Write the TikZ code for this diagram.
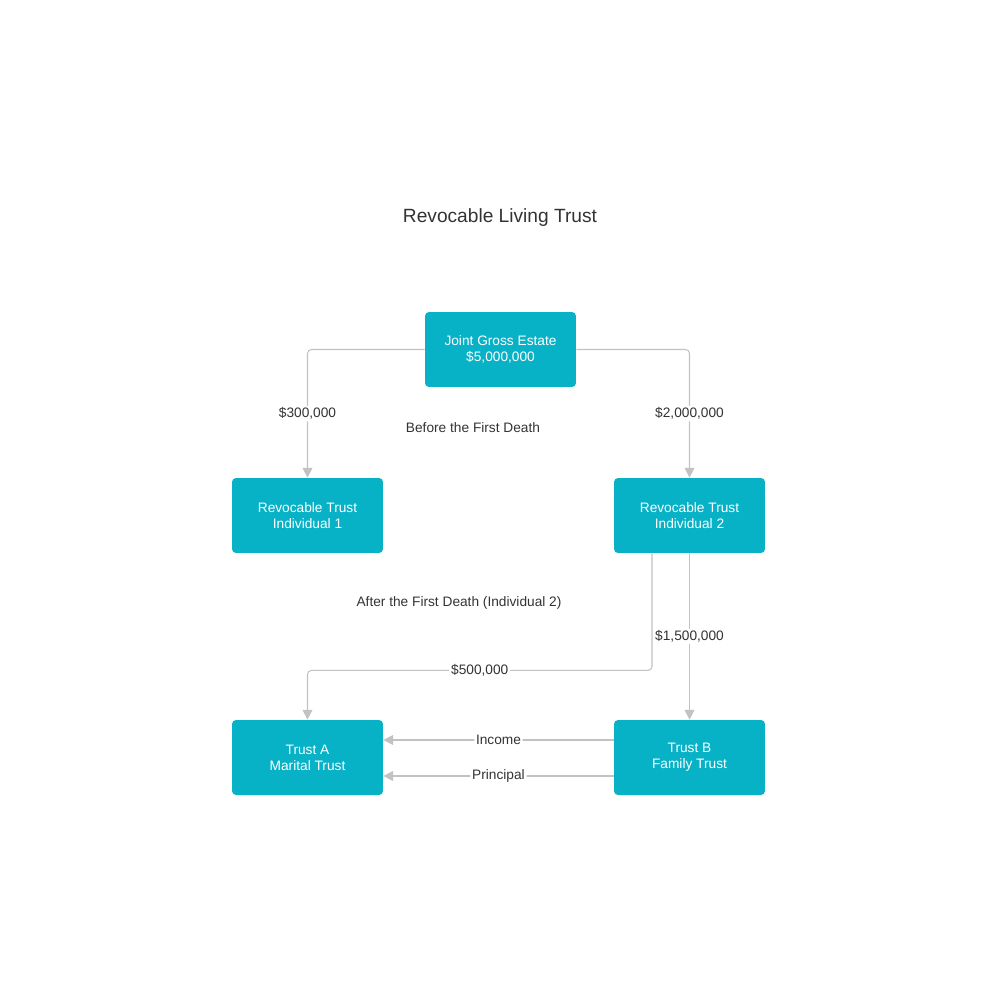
\documentclass[tikz,border=0pt]{standalone}
\usepackage{fontspec}
\setmainfont{Liberation Sans}
\usepackage{tikz}
\usetikzlibrary{calc}
\usetikzlibrary{positioning}
\usetikzlibrary{arrows.meta}
\definecolor{boxcol}{HTML}{07B2C7}
\definecolor{linecol}{HTML}{C2C2C2}
\definecolor{txtcol}{HTML}{333333}

\begin{document}
\begin{tikzpicture}[x=0.02cm, y=-0.02cm,
		box/.style={rectangle, rounded corners=0.08cm, fill=boxcol, text=white, align=center, minimum width=3.02cm, minimum height=1.5cm, font=\fontsize{7.8}{9.2}\selectfont},
		link/.style={draw=linecol, line width=0.6pt, rounded corners=0.08cm, -{Triangle[length=5.6pt,width=5.6pt]}},
		lbl/.style={fill=white, text=txtcol, inner sep=1pt, font=\fontsize{7.8}{9.2}\selectfont},
		note/.style={text=txtcol, font=\fontsize{7.8}{9.2}\selectfont}]
				\useasboundingbox (0,0) rectangle (1000,1000);
				
				\node[text=txtcol, font=\fontsize{10.9}{13}\selectfont] (T) at (500,218) {Revocable Living Trust};
				
				\node[box] (J) at (500.5,349.5) {Joint Gross Estate\\\$5,000,000};
				\node[box] (R1) at (307.5,515.5) {Revocable Trust\\ Individual 1};
				\node[box] (R2) at (689.5,515.5) {Revocable Trust\\ Individual 2};
				\node[box] (A) at (307.5,757.5) {Trust A\\Marital Trust};
				\node[box] (B) at (689.5,757.5) {Trust B\\Family Trust};
				
				\node[note] (N1) at (473,428) {Before the First Death};
				\node[note] (N2) at (459,603) {After the First Death (Individual 2)};
				
				\draw[link] (J.west) -| (R1.north) node[lbl,pos=0.75] {\$300,000};
				\draw[link] (J.east) -| (R2.north) node[lbl,pos=0.75] {\$2,000,000};
				\draw[link] ([xshift=-0.75cm]R2.south) -- ++(0,117) -| (A.north) node[lbl,pos=0.25] {\$500,000};
				\draw[link] (R2.south) -- (B.north) node[lbl,pos=0.5] {\$1,500,000};
				\draw[link] ([yshift=0.35cm]B.west) -- ([yshift=0.35cm]B.west -| A.east) node[lbl,midway] {Income};
				\draw[link] ([yshift=-0.37cm]B.west) -- ([yshift=-0.37cm]B.west -| A.east) node[lbl,midway] {Principal};
			\end{tikzpicture}
\end{document}
